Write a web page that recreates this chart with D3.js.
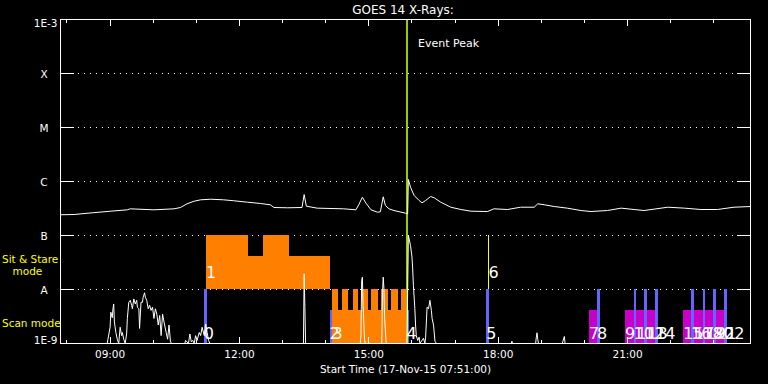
<!DOCTYPE html>
<html><head><meta charset="utf-8">
<script src="https://cdn.jsdelivr.net/npm/d3@7"></script>
<style>html,body{margin:0;padding:0;background:#000;} svg{display:block;}</style>
</head><body>
<svg id="c" width="768" height="384"></svg>
<script>
// ---- data ----
const levelLabels = ["1E-3","X","M","C","B","A","1E-9"];
const levelValues = [1e-3,1e-4,1e-5,1e-6,1e-7,1e-8,1e-9];
const gridValues = [1e-4,1e-5,1e-6,1e-7,1e-8];
const hourTickLabels = ["09:00","12:00","15:00","18:00","21:00"];

// GOES 14 long channel (1-8 A)
const longTime = ["07:51","08:10","08:35","09:01","09:24","09:28","10:01","10:29","10:38","10:47",
  "10:57","11:06","11:20","11:38","11:52","12:11","12:29","12:43","12:48","13:07",
  "13:27","13:30","13:33","13:48","14:25","14:42","14:46","14:51","14:56","15:03",
  "15:12","15:16","15:20","15:23","15:28","15:35","15:51","15:54","15:55","15:58",
  "16:03","16:10","16:14","16:19","16:26","16:31","16:40","16:54","17:08","17:22",
  "17:45","17:54","18:13","18:31","18:50","18:55","19:04","19:18","19:36","19:55",
  "20:09","20:32","20:51","21:09","21:23","21:56","22:19","22:42","23:05","23:28","23:51"];
const longFlux = [2.42e-7,2.45e-7,2.63e-7,2.82e-7,2.99e-7,3.12e-7,2.99e-7,3.12e-7,3.30e-7,3.86e-7,
  4.32e-7,4.58e-7,4.70e-7,4.58e-7,4.40e-7,4.14e-7,3.92e-7,3.70e-7,3.30e-7,3.26e-7,
  3.30e-7,5.74e-7,3.49e-7,3.21e-7,3.12e-7,2.99e-7,3.71e-7,5.12e-7,3.97e-7,2.99e-7,
  2.70e-7,2.75e-7,5.21e-7,3.60e-7,3.12e-7,2.90e-7,2.59e-7,2.52e-7,1.09e-6,7.83e-7,
  5.51e-7,4.45e-7,4.03e-7,4.45e-7,5.27e-7,4.99e-7,4.14e-7,3.34e-7,3.03e-7,2.82e-7,
  2.78e-7,3.12e-7,3.03e-7,3.34e-7,3.34e-7,3.86e-7,3.71e-7,3.44e-7,3.21e-7,2.90e-7,
  2.78e-7,2.90e-7,3.21e-7,3.03e-7,2.90e-7,3.34e-7,3.21e-7,3.03e-7,3.03e-7,3.34e-7,3.44e-7];

// GOES 14 short channel (0.5-4 A); values under 1E-9 sit on the bottom axis
const shortTime = ["07:51","08:56","08:57","09:00","09:01","09:03","09:04","09:05","09:06","09:08",
  "09:10","09:12","09:14","09:16","09:17","09:19","09:21","09:23","09:24","09:26",
  "09:28","09:30","09:31","09:33","09:35","09:37","09:38","09:40","09:41","09:43",
  "09:45","09:46","09:48","09:49","09:51","09:53","09:55","09:57","09:59","10:01",
  "10:03","10:05","10:07","10:09","10:11","10:13","10:15","10:18","10:20","10:22",
  "10:24","10:26","10:44","10:45","10:47","10:49","10:51","10:53","10:55","10:57",
  "10:59","11:01","11:04","11:06","11:08","11:11","11:13","11:15","11:17","11:19",
  "13:29","13:30","13:31","13:32","14:48","14:49","14:50","14:51","14:52","14:54",
  "14:55","15:18","15:19","15:20","15:21","15:22","15:24","15:26","15:53","15:55",
  "15:56","15:58","16:00","16:01","16:02","16:04","16:05","16:06","16:08","16:10",
  "16:11","16:16","16:18","16:19","16:21","16:23","16:25","16:27","16:28","16:30",
  "16:32","16:34","18:18","18:19","18:20","18:52","18:53","18:54","18:55","18:56",
  "19:29","19:30","19:32","19:33","23:51"];
const shortFlux = [8e-10,8e-10,1.2e-9,2.0e-9,3.8e-9,3.0e-9,4.4e-9,5.4e-9,2.5e-9,1.6e-9,
  1.2e-9,8e-10,2.0e-9,1.4e-9,1.6e-9,1.2e-9,8e-10,1.5e-9,2.9e-9,5.8e-9,
  6.3e-9,5.1e-9,4.4e-9,6.7e-9,5.4e-9,6.3e-9,4.7e-9,4.4e-9,1.9e-9,5.8e-9,
  5.8e-9,7.2e-9,8.7e-9,7.2e-9,6.3e-9,4.4e-9,5.1e-9,4.1e-9,4.7e-9,2.9e-9,
  4.4e-9,3.5e-9,2.2e-9,3.3e-9,1.4e-9,3.5e-9,2.5e-9,1.6e-9,1.2e-9,2.2e-9,
  1.07e-9,8e-10,8e-10,1.14e-9,1.07e-9,8e-10,1.5e-9,1.07e-9,1.14e-9,8e-10,
  1.4e-9,1.14e-9,1.6e-9,1.4e-9,2.0e-9,1.4e-9,2.3e-9,1.6e-9,1.14e-9,8e-10,
  8e-10,1.95e-8,4.7e-9,8e-10,8e-10,1.4e-9,1.47e-8,1.69e-8,5.1e-9,1.2e-9,
  8e-10,8e-10,8.9e-9,1.69e-8,1.03e-8,2.9e-9,1.05e-9,8e-10,8e-10,1.0e-7,
  8.7e-8,6.5e-8,4.0e-8,2.4e-8,1.19e-8,4.4e-9,2.2e-9,1.4e-9,1.14e-9,1.31e-9,
  8e-10,1.25e-9,8e-10,1.31e-9,4.7e-9,4.4e-9,6.3e-9,4.1e-9,2.9e-9,2.2e-9,
  1.1e-9,8e-10,8e-10,1.1e-9,8e-10,8e-10,1.3e-9,1.58e-9,1.2e-9,8e-10,
  8e-10,1.1e-9,1.35e-9,8e-10,8e-10];

// Sit & Stare observation blocks (orange)
const sitStart = ["11:14","12:13","12:34","13:10"];
const sitEnd   = ["12:13","12:34","13:10","14:07"];
const sitTop   = [1e-7,4.1e-8,1e-7,4.1e-8];

// Scan mode orange: base block and raster repeats
const scanBaseStart = ["14:10"];
const scanBaseEnd = ["15:54"];
const scanBaseTop = [4.1e-9];
const rasterStart = ["14:10","14:24","14:38","14:51","15:04","15:18","15:32","15:46"];
const rasterEnd   = ["14:18","14:32","14:46","14:59","15:13","15:27","15:41","15:54"];

// Scan mode magenta blocks
const magStart = ["20:07","20:57","22:18"];
const magEnd   = ["20:20","21:39","23:15"];
const magTop   = [4.1e-9,4.1e-9,4.1e-9];

// Short scan markers (blue)
const blueStart = ["11:11","14:06","15:53","17:44","20:18","21:09","21:24","21:39","22:29","22:45","23:00","23:15"];
const blueEnd   = ["11:15","14:10","15:57","17:48","20:22","21:13","21:28","21:43","22:33","22:49","23:04","23:19"];
const blueTop   = [1e-8,4.1e-9,4.1e-9,1e-8,1e-8,1e-8,1e-8,1e-8,1e-8,1e-8,1e-8,1e-8];

// Short sit & stare (yellow)
const yellowTime = ["17:47"];

// Event peak
const peakTime = "15:54";

// Observation numbers
const obsNum  = ["0","1","2","3","4","5","6","7","8","9","10","11","12","13","14","15","16","17","18","19","20","21","22"];
const obsTime = ["11:11","11:14","14:06","14:10","15:53","17:44","17:47","20:07","20:18","20:57","21:09","21:13","21:24","21:28","21:39","22:18","22:29","22:33","22:45","22:49","23:00","23:04","23:15"];
const obsMode = ["scan","sit","scan","scan","scan","scan","sit","scan","scan","scan","scan","scan","scan","scan","scan","scan","scan","scan","scan","scan","scan","scan","scan"];

// ---- drawing ----
const parse = d3.utcParse("%Y-%m-%d %H:%M");
const T = s => parse("2015-11-17 " + s);
const x = d3.scaleUtc().domain([T("07:51"), T("23:51")]).range([60, 750]);
const y = d3.scaleLog().domain([1e-9, 1e-3]).range([343, 19]).clamp(true);
const FONT = "DejaVu Sans";

const svg = d3.select("#c");
svg.append("rect").attr("width",768).attr("height",384).attr("fill","#000");

// grid dotted lines
const g = svg.append("g");
g.selectAll("line.grid").data(gridValues).join("line")
  .attr("x1", 78).attr("x2", 736)
  .attr("y1", d => y(d) + 0.5).attr("y2", d => y(d) + 0.5)
  .attr("stroke", "#fff").attr("stroke-width", 1).attr("stroke-dasharray", "1,5");
// level ticks left/right
g.selectAll("line.lt").data(gridValues).join("line")
  .attr("x1", 60).attr("x2", 74).attr("y1", d => y(d) + 0.5).attr("y2", d => y(d) + 0.5)
  .attr("stroke", "#fff");
g.selectAll("line.rt").data(gridValues).join("line").attr("class","rt")
  .attr("x1", 737).attr("x2", 750).attr("y1", d => y(d) + 0.5).attr("y2", d => y(d) + 0.5)
  .attr("stroke", "#fff");

const blocks = svg.append("g").attr("shape-rendering","crispEdges");
// sit & stare orange
blocks.selectAll("rect.sit").data(sitStart).join("rect")
  .attr("x", (d,i) => x(T(d))).attr("width", (d,i) => x(T(sitEnd[i])) - x(T(d)))
  .attr("y", (d,i) => y(sitTop[i])).attr("height", (d,i) => y(1e-8) - y(sitTop[i]))
  .attr("fill", "#ff8000");
// scan orange base
blocks.selectAll("rect.sb").data(scanBaseStart).join("rect").attr("class","sb")
  .attr("x", d => x(T(d))).attr("width", (d,i) => x(T(scanBaseEnd[i])) - x(T(d)))
  .attr("y", (d,i) => y(scanBaseTop[i])).attr("height", (d,i) => y(1e-9) - y(scanBaseTop[i]))
  .attr("fill", "#ff8000");
blocks.selectAll("rect.rs").data(rasterStart).join("rect").attr("class","rs")
  .attr("x", d => x(T(d))).attr("width", (d,i) => x(T(rasterEnd[i])) - x(T(d)))
  .attr("y", y(1e-8)).attr("height", y(1e-9) - y(1e-8))
  .attr("fill", "#ff8000");
// magenta
blocks.selectAll("rect.mg").data(magStart).join("rect").attr("class","mg")
  .attr("x", d => x(T(d))).attr("width", (d,i) => x(T(magEnd[i])) - x(T(d)))
  .attr("y", (d,i) => y(magTop[i])).attr("height", (d,i) => y(1e-9) - y(magTop[i]))
  .attr("fill", "#c800c8");
// blue markers
blocks.selectAll("rect.bl").data(blueStart).join("rect").attr("class","bl")
  .attr("x", d => x(T(d))).attr("width", (d,i) => x(T(blueEnd[i])) - x(T(d)))
  .attr("y", (d,i) => y(blueTop[i])).attr("height", (d,i) => y(1e-9) - y(blueTop[i]))
  .attr("fill", "#6464ff");
// yellow sit & stare marker
blocks.selectAll("line.yl").data(yellowTime).join("line").attr("class","yl")
  .attr("x1", d => Math.round(x(T(d))) + 0.5).attr("x2", d => Math.round(x(T(d))) + 0.5)
  .attr("y1", y(1e-7)).attr("y2", y(1e-8))
  .attr("stroke", "#ffff00").attr("stroke-width", 1);
// event peak line
blocks.append("rect")
  .attr("x", Math.round(x(T(peakTime))) - 1).attr("width", 2)
  .attr("y", 19).attr("height", 324)
  .attr("fill", "#99cc00");

// curves
const lineGen = d3.line().x(d => x(T(d[0])) + 0.5).y(d => y(d[1]) + 0.5);
svg.append("path").datum(longTime.map((t,i) => [t, longFlux[i]]))
  .attr("d", lineGen).attr("fill","none").attr("stroke","#fff").attr("stroke-width",1);
svg.append("path").datum(shortTime.map((t,i) => [t, shortFlux[i]]))
  .attr("d", lineGen).attr("fill","none").attr("stroke","#fff").attr("stroke-width",1);

// axes box
svg.append("rect").attr("x", 60.5).attr("y", 19.5).attr("width", 690).attr("height", 324)
  .attr("fill","none").attr("stroke","#fff").attr("stroke-width",1);

// hour ticks top & bottom
const hours = d3.utcHour.range(T("08:00"), T("23:51"));
const isMajor = d => d.getUTCHours() % 3 === 0;
svg.selectAll("line.tt").data(hours).join("line").attr("class","tt")
  .attr("x1", d => Math.round(x(d)) + 0.5).attr("x2", d => Math.round(x(d)) + 0.5)
  .attr("y1", 19).attr("y2", d => 19 + (isMajor(d) ? 7 : 4)).attr("stroke","#fff");
svg.selectAll("line.bt").data(hours).join("line").attr("class","bt")
  .attr("x1", d => Math.round(x(d)) + 0.5).attr("x2", d => Math.round(x(d)) + 0.5)
  .attr("y1", 344).attr("y2", d => 344 - (isMajor(d) ? 7 : 4)).attr("stroke","#fff");
svg.selectAll("text.hl").data(hourTickLabels).join("text").attr("class","hl")
  .attr("x", d => x(T(d)) + 0.5).attr("y", 358)
  .attr("text-anchor","middle").attr("fill","#fff")
  .attr("font-family", FONT).attr("font-size", 10.5).text(d => d);

// level labels
svg.selectAll("text.lv").data(levelLabels).join("text").attr("class","lv")
  .attr("x", d => d.length > 1 ? 57.5 : 44)
  .attr("y", (d,i) => i === 0 ? y(levelValues[i]) + 8 : (i === 6 ? y(levelValues[i]) + 1 : y(levelValues[i]) + 5))
  .attr("text-anchor", d => d.length > 1 ? "end" : "middle")
  .attr("fill","#fff").attr("font-family", FONT).attr("font-size", 10.5).text(d => d);

// mode labels
const ml = [["Sit & Stare", 2, 263], ["mode", 12.5, 275], ["Scan mode", 2, 327]];
svg.selectAll("text.ml").data(ml).join("text").attr("class","ml")
  .attr("x", d => d[1]).attr("y", d => d[2]).attr("fill","#ffff00")
  .attr("font-family", FONT).attr("font-size", 10.5).text(d => d[0]);

// titles
svg.append("text").attr("x", 403).attr("y", 14).attr("text-anchor","middle")
  .attr("fill","#fff").attr("font-family", FONT).attr("font-size", 12).text("GOES 14 X-Rays:");
svg.append("text").attr("x", 405.5).attr("y", 373).attr("text-anchor","middle")
  .attr("fill","#fff").attr("font-family", FONT).attr("font-size", 10.5).text("Start Time (17-Nov-15 07:51:00)");
svg.append("text").attr("x", Math.round(x(T(peakTime))) + 11).attr("y", 47)
  .attr("fill","#fff").attr("font-family", FONT).attr("font-size", 11).text("Event Peak");

// observation numbers
svg.selectAll("text.on").data(obsNum).join("text").attr("class","on")
  .attr("x", (d,i) => x(T(obsTime[i])))
  .attr("y", (d,i) => obsMode[i] === "sit" ? y(1e-8) - 11.5 : y(1e-9) - 4.5)
  .attr("fill","#fff").attr("font-family", FONT).attr("font-size", 16).text(d => d);
</script>
</body></html>
